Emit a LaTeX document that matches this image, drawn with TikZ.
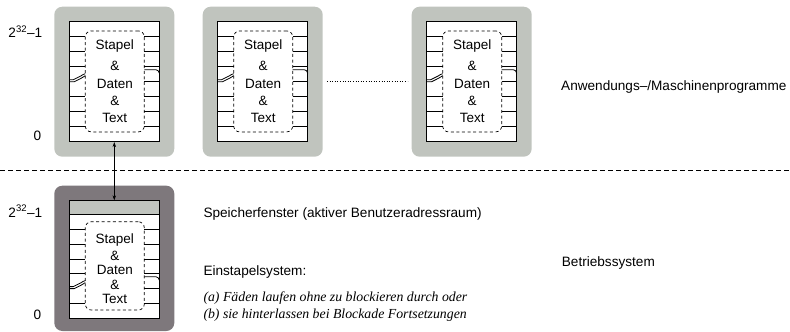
\documentclass[tikz,border=0pt]{standalone}
\usepackage{fontspec}
\setmainfont{Liberation Sans}
\newfontfamily\itserif{Liberation Serif}
\usetikzlibrary{arrows.meta}
\definecolor{lightbox}{HTML}{C0C4BE}
\definecolor{darkbox}{HTML}{7E787C}
\begin{document}
\begin{tikzpicture}[x=1pt,y=-1pt,
  txt/.style={font=\fontsize{13.6}{17}\selectfont, inner sep=0pt},
  backbox/.style={rounded corners=8pt, draw=none, inner sep=0pt, minimum width=120pt},
  memrect/.style={draw=black, line width=0.8pt, fill=white, inner sep=0pt, minimum width=90pt},
  dashbox/.style={draw=black, line width=0.7pt, dash pattern=on 3pt off 2.6pt, rounded corners=6pt, inner sep=0pt, minimum width=59pt},
  tick/.style={line width=0.8pt},
  sep/.style={line width=0.7pt, dash pattern=on 4.5pt off 3.5pt},
  dotline/.style={line width=0.8pt, dash pattern=on 1pt off 1.6pt}]
\useasboundingbox (0,0) rectangle (790,332);

% ---------- upper panels ----------
\foreach \n/\px in {A/69.3, B/217.7, C/426.7}{
  \begin{scope}[shift={(\px,21.7)}]
    \node[backbox, fill=lightbox, minimum height=150pt] (g\n) at (45,60) {};
    \node[memrect, minimum height=120pt] (i\n) at (45,60) {};
    \node[dashbox, minimum height=101pt] (d\n) at (45.5,59.7) {};
    \foreach \yy in {15,30,45,75,90,105} \draw[tick] (0,\yy) -- (16,\yy);
    \foreach \yy in {15,30,45,60,75,90,105} \draw[tick] (75,\yy) -- (90,\yy);
    \draw[tick] (0,60) -- (5,60) .. controls (7,60) and (8,57.5) .. (10,57.5) .. controls (12,57.5) and (13,55) .. (16,54);
    \draw[tick] (0,58) -- (4,58) .. controls (6,58) and (7,55.5) .. (9,55.5) .. controls (11,55.5) and (12,53) .. (16,52);
    \draw[tick] (75,48) -- (86.5,48) .. controls (88.5,48) and (89.5,49.5) .. (90,51.5);
    \node[txt, align=center, font=\fontsize{13.5}{17.3}\selectfont] (t\n) at (45.5,59.8) {Stapel\\[3.7pt]\&\\Daten\\\&\\Text};
  \end{scope}
}

% ---------- lower panel ----------
\begin{scope}[shift={(69.3,200.7)}]
  \node[backbox, fill=darkbox, minimum height=145.3pt] (gD) at (45,57.65) {};
  \node[memrect, minimum height=117.6pt] (iD) at (45,58.8) {};
  \node[draw=black, line width=0.8pt, fill=lightbox, inner sep=0pt, minimum width=90pt, minimum height=13.6pt, anchor=north] (band) at (iD.north) {};
  \node[dashbox, minimum height=88.3pt] (dD) at (45.5,65.2) {};
  \foreach \yy in {28.5,43.3,58.2,73,102.8} \draw[tick] (0,\yy) -- (16,\yy);
  \foreach \yy in {28.5,43.3,58.2,73,87.9,102.8} \draw[tick] (75,\yy) -- (90,\yy);
  \draw[tick] (0,87.9) -- (5,87.9) .. controls (7,87.9) and (8,85.4) .. (10,85.4) .. controls (12,85.4) and (13,82.9) .. (16,81.9);
  \draw[tick] (0,85.9) -- (4,85.9) .. controls (6,85.9) and (7,83.4) .. (9,83.4) .. controls (11,83.4) and (12,80.9) .. (16,79.9);
  \draw[tick] (75,76) -- (86.5,76) .. controls (88.5,76) and (89.5,77.5) .. (90,79.5);
  \node[txt, align=center, font=\fontsize{13.5}{14.1}\selectfont] (tD) at (45.5,67.6) {Stapel\\[3.6pt]\&\\Daten\\\&\\Text};
\end{scope}

% ---------- connectors ----------
\draw[{Stealth[length=5pt,width=3.5pt]}-{Stealth[length=5pt,width=3.5pt]}, line width=0.6pt] (iA.south) -- (band.north);
\coordinate (sepL) at (0,170);
\coordinate (sepR) at (790,170);
\draw[sep] (sepL) -- (sepR);
\path (gB.east) ++(4,0) coordinate (dotL) (gC.west) ++(-4,0) coordinate (dotR);
\draw[dotline] (dotL) -- (dotR);

% ---------- labels ----------
\node[txt, anchor=base west] (topmax) at (8.3,37.5) {2\textsuperscript{32}–1};
\node[txt, anchor=base west] (topzero) at (33.3,140) {0};
\node[txt, anchor=base west] (botmax) at (8.3,217) {2\textsuperscript{32}–1};
\node[txt, anchor=base west] (botzero) at (33.3,319.3) {0};

\node[txt, anchor=base west] (anw) at (561,90) {Anwendungs–/Maschinenprogramme};
\node[txt, anchor=base west] (speicher) at (203.3,217.3) {Speicherfenster (aktiver Benutzeradressraum)};
\node[txt, anchor=base west] (einst) at (203.3,275) {Einstapelsystem:};
\node[txt, anchor=base west] (betr) at (561.7,266) {Betriebssystem};
\node[txt, anchor=base west, font=\itserif\itshape\fontsize{13.8}{17}\selectfont] (la) at (203.3,301.7) {(a) Fäden laufen ohne zu blockieren durch oder};
\node[txt, anchor=base west, font=\itserif\itshape\fontsize{13.8}{17}\selectfont] (lb) at (203.3,318.3) {(b) sie hinterlassen bei Blockade Fortsetzungen};
\end{tikzpicture}
\end{document}
